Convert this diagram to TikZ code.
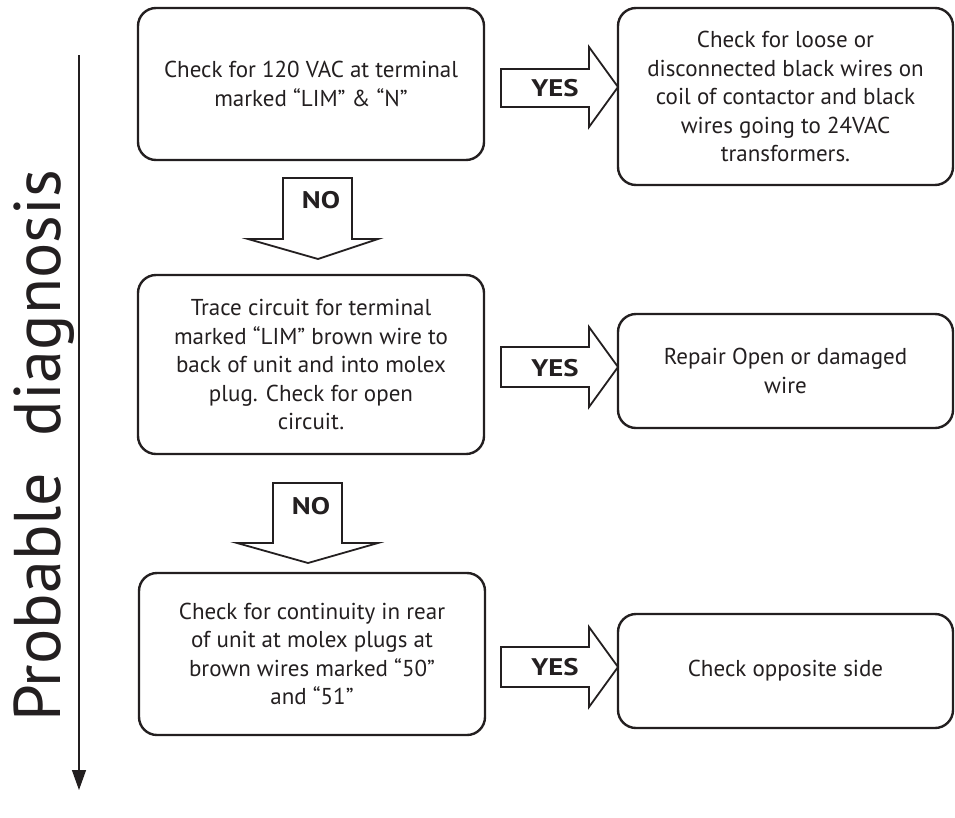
\documentclass[tikz,border=0pt]{standalone}
\usepackage{fontspec}
\setmainfont{PT Sans}
\usetikzlibrary{arrows.meta}
\definecolor{ink}{HTML}{231F20}
\tikzset{
  box/.style={draw=ink, line width=2.4pt, rounded corners=18pt, align=center,
    font=\fontsize{23}{28.5}\selectfont, text=ink, inner sep=0pt},
  blockarrow/.style={draw=ink, line width=1.8pt, fill=white, line join=miter},
  lbl/.style={font=\bfseries\fontsize{24}{26}\selectfont, text=ink, inner sep=0pt},
}
\newcommand\widelbl[1]{\scalebox{1.2}[1]{#1}}
\begin{document}
\begin{tikzpicture}[x=1pt,y=1pt]
\useasboundingbox (0,0) rectangle (955,-817);
% boxes
\node[box, minimum width=346, minimum height=152] (b1) at (311,-84)
  {Check for 120 VAC at terminal\\marked “LIM” \& “N”};
\node[box, minimum width=335, minimum height=177] (b2) at (785.5,-96.5)
  {Check for loose or\\disconnected black wires on\\coil of contactor and black\\wires going to 24VAC\\transformers.};
\node[box, minimum width=346, minimum height=179] (b3) at (311,-364.5)
  {Trace circuit for terminal\\marked “LIM” brown wire to\\back of unit and into molex\\plug. Check for open\\circuit.};
\node[box, minimum width=335, minimum height=114] (b4) at (785.5,-371)
  {Repair Open or damaged\\wire};
\node[box, minimum width=346, minimum height=162] (b5) at (312,-654)
  {Check for continuity in rear\\of unit at molex plugs at\\brown wires marked “50”\\and “51”};
\node[box, minimum width=335, minimum height=114] (b6) at (785.5,-671)
  {Check opposite side};
% YES arrows
\draw[blockarrow] (501,-69) -- (589,-69) -- (589,-47) -- (618,-87) -- (589,-127) -- (589,-107) -- (501,-107) -- cycle;
\node[lbl] (y1) at (555,-88) {\widelbl{YES}};
\draw[blockarrow] (501,-347) -- (589,-347) -- (589,-327) -- (618,-367) -- (589,-407) -- (589,-387) -- (501,-387) -- cycle;
\node[lbl] (y2) at (555,-368) {\widelbl{YES}};
\draw[blockarrow] (501,-647) -- (589,-647) -- (589,-627) -- (618,-667) -- (589,-707) -- (589,-687) -- (501,-687) -- cycle;
\node[lbl] (y3) at (555,-667) {\widelbl{YES}};
% NO arrows
\draw[blockarrow] (283,-178) -- (352,-178) -- (352,-239) -- (378,-239) -- (318,-259) -- (248,-239) -- (283,-239) -- cycle;
\node[lbl] (n1) at (321,-200) {\widelbl{NO}};
\draw[blockarrow] (273,-483) -- (342,-483) -- (342,-543) -- (378,-543) -- (308,-563) -- (237,-543) -- (273,-543) -- cycle;
\node[lbl] (n2) at (311,-506) {\widelbl{NO}};
% left axis
\coordinate (top) at (79,-55);
\coordinate (bot) at (79,-790);
\draw[ink, line width=1.3pt, -{Triangle[length=20pt,width=14pt]}] (top) -- (bot);
\node[rotate=90, font=\fontsize{66}{70}\selectfont, text=ink, inner sep=0pt, anchor=base] (pd) at (60,-446)
  {Probable\hspace{0.55em}diagnosis};
\end{tikzpicture}
\end{document}
